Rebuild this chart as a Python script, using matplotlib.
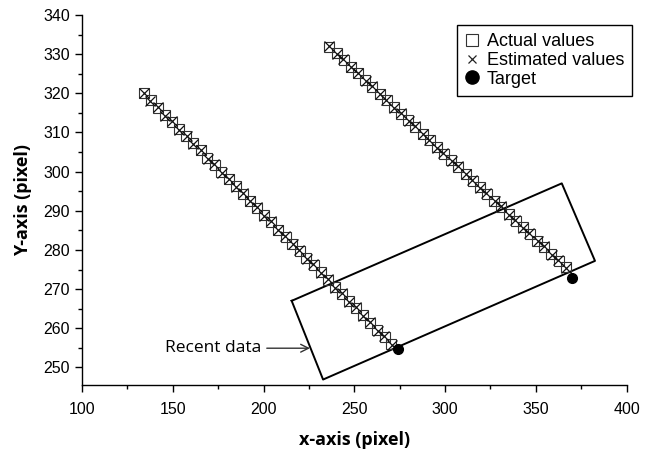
import matplotlib
matplotlib.use("Agg")
import matplotlib.pyplot as plt
from matplotlib.lines import Line2D
from matplotlib.ticker import MultipleLocator

# ---- data ----
act1_x = [134.0, 137.8, 141.9, 145.6, 149.7, 153.4, 157.5, 161.2, 165.3, 169.0,
          173.1, 176.8, 180.9, 184.6, 188.7, 192.4, 196.5, 200.2, 204.3, 208.0,
          212.1, 215.8, 219.9, 223.6, 227.7, 231.4, 235.5, 239.2, 243.3, 247.0,
          251.1, 254.8, 258.9, 262.6, 266.7, 270.4]
act1_y = [320.0, 318.2, 316.3, 314.5, 312.7, 310.9, 309.0, 307.2, 305.4, 303.5,
          301.7, 299.9, 298.0, 296.2, 294.4, 292.6, 290.7, 288.9, 287.1, 285.2,
          283.4, 281.6, 279.7, 277.9, 276.1, 274.3, 272.4, 270.6, 268.8, 266.9,
          265.1, 263.3, 261.4, 259.6, 257.8, 256.0]
est1_x = [134.2, 137.6, 142.0, 145.5, 149.8, 153.3, 157.6, 161.0, 165.4, 169.2,
          172.9, 177.0, 180.7, 184.8, 188.5, 192.6, 196.3, 200.4, 204.1, 208.2,
          211.9, 216.0, 219.7, 223.8, 227.5, 231.6, 235.3, 239.4, 243.1, 247.2,
          250.9, 255.0, 258.7, 262.8, 266.5, 270.6]
est1_y = [320.1, 318.0, 316.5, 314.3, 312.8, 310.7, 309.2, 307.0, 305.6, 303.3,
          301.9, 299.7, 298.2, 296.0, 294.6, 292.4, 290.9, 288.7, 287.3, 285.0,
          283.6, 281.4, 279.9, 277.7, 276.3, 274.1, 272.6, 270.4, 269.0, 266.7,
          265.3, 263.1, 261.6, 259.4, 258.0, 255.8]

act2_x = [236.3, 240.2, 244.2, 248.1, 252.1, 256.0, 260.0, 263.9, 267.9, 271.8,
          275.8, 279.7, 283.6, 287.6, 291.5, 295.5, 299.4, 303.4, 307.3, 311.3,
          315.2, 319.2, 323.1, 327.1, 331.0, 335.0, 338.9, 342.8, 346.8, 350.7,
          354.7, 358.6, 362.6, 366.5]
act2_y = [331.9, 330.2, 328.5, 326.8, 325.1, 323.4, 321.6, 319.9, 318.2, 316.5,
          314.8, 313.1, 311.4, 309.7, 308.0, 306.3, 304.6, 302.9, 301.2, 299.5,
          297.7, 296.0, 294.3, 292.6, 290.9, 289.2, 287.5, 285.8, 284.1, 282.4,
          280.7, 279.0, 277.3, 275.6]
est2_x = [236.0, 240.5, 243.9, 248.4, 251.8, 256.3, 259.7, 264.2, 267.6, 272.1,
          275.5, 280.0, 283.3, 287.9, 291.2, 295.8, 299.1, 303.7, 307.0, 311.6,
          314.9, 319.5, 322.8, 327.4, 330.7, 335.3, 338.6, 343.1, 346.5, 351.0,
          354.4, 358.9, 362.3, 366.8]
est2_y = [332.1, 330.0, 328.7, 326.6, 325.3, 323.2, 321.8, 319.7, 318.4, 316.3,
          315.0, 312.9, 311.6, 309.5, 308.2, 306.1, 304.8, 302.7, 301.4, 299.3,
          297.9, 295.8, 294.5, 292.4, 291.1, 289.0, 287.7, 285.6, 284.3, 282.2,
          280.9, 278.8, 277.5, 275.4]

target_x = [274.3, 370.1]
target_y = [254.8, 272.9]

rect_x = [215.5, 364.3, 382.6, 232.8, 215.5]
rect_y = [267.0, 297.0, 277.2, 246.9, 267.0]

legend_labels = ["Actual values", "Estimated values", "Target"]
annot_text = "Recent data"

# ---- figure ----
plt.rcParams['font.family'] = ['Liberation Sans', 'DejaVu Sans']
fig = plt.figure(figsize=(6.52, 4.5), dpi=100)
ax = fig.add_axes([0.1258, 0.1444, 0.8352, 0.8223])

ax.plot(rect_x, rect_y, color='black', lw=1.4, zorder=2)

for ax_, ay_ in [(act1_x, act1_y), (act2_x, act2_y)]:
    ax.plot(ax_, ay_, linestyle='none', marker='s', ms=6.5, mfc='none',
            mec='#333333', mew=0.8, zorder=3)
for ex_, ey_ in [(est1_x, est1_y), (est2_x, est2_y)]:
    ax.plot(ex_, ey_, linestyle='none', marker='x', ms=7.5, color='#111111',
            mew=0.9, zorder=4)
ax.plot(target_x, target_y, linestyle='none', marker='o', ms=7,
        color='black', zorder=5)

ax.annotate(annot_text, xy=(225.6, 254.9), xytext=(145.7, 254.9),
            va='center', ha='left', fontsize=12.5, family=['Open Sans', 'DejaVu Sans'],
            arrowprops=dict(arrowstyle='->', color='#333333', lw=1.0,
                            shrinkA=2, shrinkB=0, mutation_scale=14))

ax.set_xlim(100, 400)
ax.set_ylim(245.5, 340)
ax.xaxis.set_major_locator(MultipleLocator(50))
ax.xaxis.set_minor_locator(MultipleLocator(25))
ax.yaxis.set_major_locator(MultipleLocator(10))
ax.yaxis.set_minor_locator(MultipleLocator(5))
for s in ['top', 'right']:
    ax.spines[s].set_visible(False)
for s in ['left', 'bottom']:
    ax.spines[s].set_linewidth(1.0)
ax.tick_params(which='major', direction='out', length=5, width=1.0,
               labelsize=11.5)
ax.tick_params(axis='x', which='major', pad=7)
ax.tick_params(which='minor', direction='out', length=3, width=1.0)

ax.set_xlabel("x-axis (pixel)", fontsize=13, fontweight='bold',
              family=['Open Sans', 'DejaVu Sans'], labelpad=10)
ax.set_ylabel("Y-axis (pixel)", fontsize=13, fontweight='bold',
              family=['Open Sans', 'DejaVu Sans'], labelpad=8)

handles = [
    Line2D([], [], linestyle='none', marker='s', ms=8.5, mfc='none', mec='#333333', mew=0.8),
    Line2D([], [], linestyle='none', marker='x', ms=5.5, color='#222222', mew=0.9),
    Line2D([], [], linestyle='none', marker='o', ms=9.5, color='black'),
]
leg = ax.legend(handles, legend_labels, loc='upper right',
                bbox_to_anchor=(1.01, 0.973), borderaxespad=0,
                fontsize=13, handlelength=0.8, handletextpad=0.4,
                labelspacing=0.1, borderpad=0.45, fancybox=False,
                edgecolor='black', framealpha=1)
leg.get_frame().set_linewidth(1.0)

fig.savefig("out.png", dpi=100)
